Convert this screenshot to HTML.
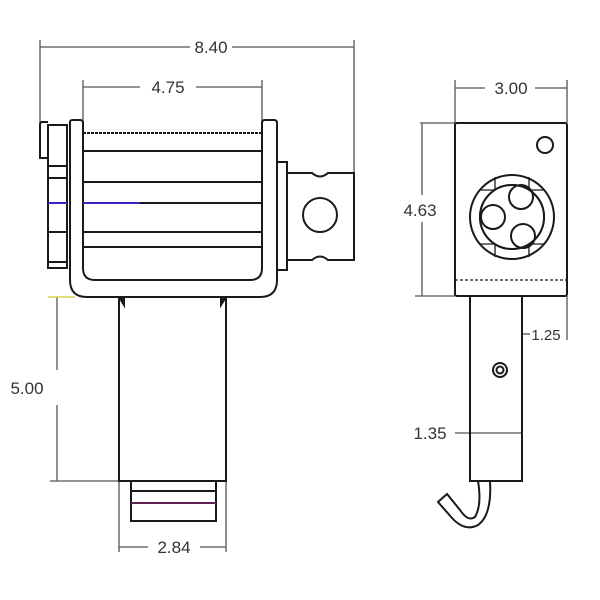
<!DOCTYPE html>
<html><head><style>html,body{margin:0;padding:0;background:#fff}svg{display:block}</style></head><body>
<svg width="600" height="600" viewBox="0 0 600 600" xmlns="http://www.w3.org/2000/svg" font-family="Liberation Sans, sans-serif" font-size="17" fill="none" stroke="#1a1a1a" stroke-width="2">
<g stroke="#555" stroke-width="1.3">
<line x1="40" y1="47" x2="190" y2="47"/><line x1="232" y1="47" x2="354" y2="47"/>
<line x1="40" y1="40" x2="40" y2="158"/><line x1="354" y1="40" x2="354" y2="173"/>
<line x1="83" y1="87" x2="140" y2="87"/><line x1="196" y1="87" x2="262" y2="87"/>
<line x1="83" y1="80" x2="83" y2="122"/><line x1="262" y1="80" x2="262" y2="122"/>
<line x1="57" y1="297" x2="57" y2="370"/><line x1="57" y1="405" x2="57" y2="481"/>
<line x1="48" y1="297" x2="75" y2="297" stroke="#cc3"/><line x1="50" y1="481" x2="119" y2="481"/>
<line x1="119" y1="481" x2="119" y2="552"/><line x1="226" y1="481" x2="226" y2="552"/>
<line x1="119" y1="547" x2="148" y2="547"/><line x1="200" y1="547" x2="226" y2="547"/>
</g>
<g fill="#333" stroke="none">
<text x="211" y="53" text-anchor="middle">8.40</text>
<text x="168" y="93" text-anchor="middle">4.75</text>
<text x="27" y="394" text-anchor="middle">5.00</text>
<text x="174" y="553" text-anchor="middle">2.84</text>
</g>
<path d="M48 122 L42 122 Q40 122 40 125 L40 158 L48 158"/>
<rect x="48" y="125" width="19" height="143"/>
<line x1="48" y1="166" x2="67" y2="166"/><line x1="48" y1="178" x2="67" y2="178"/>
<line x1="48" y1="232" x2="67" y2="232"/><line x1="48" y1="262" x2="67" y2="262"/>
<line x1="48" y1="203" x2="67" y2="203" stroke="#4020c0"/>
<path d="M70 122 Q70 120 73 120 L80 120 Q83 120 83 123 L83 268 Q83 280 95 280 L250 280 Q262 280 262 268 L262 123 Q262 120 265 120 L274 120 Q277 120 277 123 L277 280 Q277 297 260 297 L87 297 Q70 297 70 280 Z"/>
<g>
<line x1="83" y1="133" x2="262" y2="133" stroke-dasharray="3 1"/>
<line x1="83" y1="151" x2="262" y2="151"/>
<line x1="83" y1="182" x2="262" y2="182"/>
<line x1="83" y1="203" x2="140" y2="203" stroke="#4020c0"/>
<line x1="140" y1="203" x2="262" y2="203"/>
<line x1="83" y1="232" x2="262" y2="232"/>
<line x1="83" y1="247" x2="262" y2="247"/>
</g>
<rect x="277" y="162" width="10" height="108"/>
<path d="M287 173 L312 173 Q320 180 328 173 L354 173 L354 260 L328 260 Q320 253 312 260 L287 260"/>
<circle cx="320" cy="215" r="17"/>
<rect x="119" y="297" width="107" height="184"/>
<path d="M119 297 L124 305 L124 297Z M226 297 L221 305 L221 297Z" fill="#222"/>
<rect x="131" y="481" width="85" height="40"/>
<line x1="131" y1="491" x2="216" y2="491"/>
<line x1="131" y1="503" x2="216" y2="503" stroke="#602050"/>
<g stroke="#555" stroke-width="1.3">
<line x1="455" y1="80" x2="455" y2="123"/><line x1="567" y1="80" x2="567" y2="123"/>
<line x1="455" y1="88" x2="485" y2="88"/><line x1="535" y1="88" x2="567" y2="88"/>
<line x1="420" y1="123" x2="455" y2="123"/><line x1="415" y1="296" x2="455" y2="296"/>
<line x1="422" y1="123" x2="422" y2="195"/><line x1="422" y1="222" x2="422" y2="296"/>
<line x1="567" y1="296" x2="567" y2="340"/>
<line x1="522" y1="334" x2="530" y2="334"/>
<line x1="455" y1="433" x2="522" y2="433"/>
</g>
<g fill="#333" stroke="none">
<text x="511" y="94" text-anchor="middle">3.00</text>
<text x="420" y="216" text-anchor="middle">4.63</text>
<text x="546" y="340" text-anchor="middle" font-size="15">1.25</text>
<text x="430" y="439" text-anchor="middle">1.35</text>
</g>
<rect x="455" y="123" width="112" height="173" rx="2"/>
<line x1="455" y1="280" x2="567" y2="280" stroke-dasharray="3 2" stroke-width="1.3"/>
<circle cx="545" cy="145" r="8"/>
<circle cx="512" cy="217" r="42"/>
<circle cx="512" cy="217" r="32"/>
<g stroke-width="1.3"><line x1="480" y1="190" x2="544" y2="190"/><line x1="480" y1="244" x2="544" y2="244"/><line x1="495" y1="177" x2="495" y2="257"/><line x1="529" y1="177" x2="529" y2="257"/></g>
<circle cx="512" cy="217" r="32" fill="#fff" stroke="none"/>
<circle cx="512" cy="217" r="32"/>
<circle cx="493" cy="217" r="12"/>
<circle cx="521" cy="197" r="12"/>
<circle cx="523" cy="236" r="12"/>
<rect x="470" y="296" width="52" height="185"/>
<circle cx="500" cy="370" r="7"/><circle cx="500" cy="370" r="3.5"/>
<path d="M478 481 Q482 505 475 517 Q468 522 460 510 L447 494 L438 502 L452 518 Q465 532 478 525 Q492 515 490 481"/>
</svg>
</body></html>
